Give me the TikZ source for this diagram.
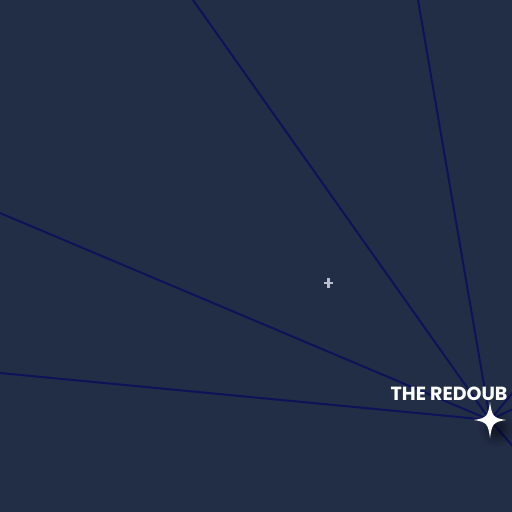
\documentclass[tikz,border=0pt]{standalone}
\usepackage{fontspec}
\setmainfont{Poppins}
\usetikzlibrary{calc}
\begin{document}
\begin{tikzpicture}[x=1pt,y=-1pt,
  ray/.style={draw=rayblue,line width=2pt},
  lbl/.style={text=white,font=\fontsize{19}{20}\selectfont\bfseries,inner sep=0pt,anchor=base west}]
\definecolor{bgnavy}{HTML}{222E46}
\definecolor{rayblue}{HTML}{0C1358}
\definecolor{plusgray}{HTML}{B8BECC}
\useasboundingbox (0,0) rectangle (512,512);
\fill[bgnavy] (0,0) rectangle (512,512);
\begin{scope}
\clip (0,0) rectangle (512,512);
\coordinate (hub) at (490,420);
\coordinate (e1) at (193,0);
\coordinate (e2) at (418,0);
\coordinate (e3) at (0,213);
\coordinate (e4) at (0,373);
\coordinate (e5) at (530,372);
\coordinate (e6) at (540,396);
\coordinate (e7) at (530,466);
\foreach \e in {e1,e2,e3,e4,e5,e6,e7} \draw[ray] (hub) -- (\e);
% plus marker
\node[inner sep=0pt,minimum size=9pt] (plus) at (328.5,283) {};
\draw[plusgray,line width=2.2pt] (plus.west) -- (plus.east) (plus.north) -- (plus.south);
% label
\node[lbl] (label) at (390.5,400) {THE REDOUB};
% star shadow
\foreach \i/\o in {18/0.05,15/0.07,12/0.09,9/0.11,6/0.13}
  \fill[black,opacity=\o] ($(hub)+(7,9)$) circle (\i);
% star
\fill[white] (490,402) .. controls (492,416) and (493,418) .. (506,420)
  .. controls (493,422) and (492,424) .. (490,438)
  .. controls (488,424) and (487,422) .. (474,420)
  .. controls (487,418) and (488,416) .. (490,402) -- cycle;
\node[inner sep=0pt,minimum size=32pt] (star) at (hub) {};
\end{scope}
\end{tikzpicture}
\end{document}
